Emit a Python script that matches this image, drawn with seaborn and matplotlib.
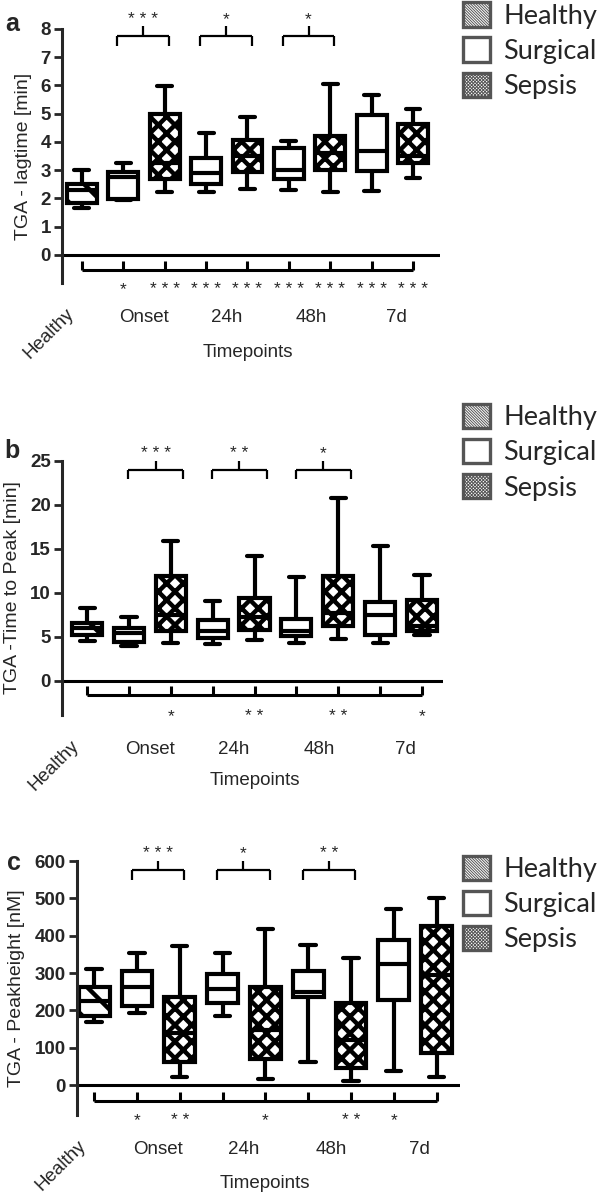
import numpy as np
import pandas as pd
import matplotlib
matplotlib.use("Agg")
import matplotlib.pyplot as plt
import seaborn as sns
from matplotlib.patches import Patch, Rectangle
from matplotlib.legend_handler import HandlerPatch

sns.set_style("white")
plt.rcParams['font.family'] = ['Liberation Sans', 'DejaVu Sans']
plt.rcParams['hatch.linewidth'] = 3.2

# boxes in plotting order
boxes = ["Healthy", "Onset Surgical", "Onset Sepsis", "24h Surgical", "24h Sepsis",
         "48h Surgical", "48h Sepsis", "7d Surgical", "7d Sepsis"]
box_hatch = ["\\", "", "xx", "", "xx", "", "xx", "", "xx"]
timepoints = ["Onset", "24h", "48h", "7d"]
timepoint_x = [1.5, 3.5, 5.55, 7.6]

# min, q1, median, q3, max for every box
lagtime = [[1.66, 1.84, 2.30, 2.51, 3.00],
           [1.93, 1.97, 2.75, 2.94, 3.26],
           [2.21, 2.70, 3.25, 5.00, 5.97],
           [2.22, 2.51, 2.90, 3.44, 4.30],
           [2.34, 2.92, 3.50, 4.08, 4.88],
           [2.30, 2.70, 3.00, 3.80, 4.02],
           [2.21, 3.01, 3.60, 4.20, 6.05],
           [2.25, 2.96, 3.69, 4.94, 5.67],
           [2.72, 3.25, 3.50, 4.63, 5.18]]
time_to_peak = [[4.47, 5.23, 5.95, 6.55, 8.26],
                [3.90, 4.39, 5.40, 5.98, 7.20],
                [4.28, 5.60, 7.50, 11.93, 15.90],
                [4.17, 4.85, 5.70, 6.86, 9.09],
                [4.66, 5.80, 7.30, 9.39, 14.20],
                [4.28, 5.10, 5.60, 7.00, 11.78],
                [4.77, 6.25, 7.70, 11.86, 20.76],
                [4.28, 5.15, 7.50, 8.90, 15.38],
                [5.23, 5.60, 6.20, 9.20, 12.05]]
peakheight = [[168, 186, 225, 263, 312],
              [192, 212, 263, 305, 355],
              [22, 61, 140, 235, 372],
              [186, 219, 256, 297, 353],
              [16, 70, 147, 263, 418],
              [62, 235, 250, 306, 375],
              [12, 46, 120, 220, 339],
              [38, 228, 324, 388, 471],
              [22, 85, 295, 427, 502]]

# significance: each box vs healthy (below axis), surgical vs sepsis (brackets)
lag_vs_healthy = ["", "*", "***", "***", "***", "***", "***", "***", "***"]
lag_pairs = ["***", "*", "*"]
ttp_vs_healthy = ["", "", "*", "", "**", "", "**", "", "*"]
ttp_pairs = ["***", "**", "*"]
peak_vs_healthy = ["", "*", "**", "", "*", "", "**", "*", ""]
peak_pairs = ["***", "*", "**"]

panels = [
    dict(letter="a", stats=lagtime, below=lag_vs_healthy, pairs=lag_pairs,
         ylabel="TGA - lagtime [min]", yticks=range(0, 9), ylim=(-1, 8),
         xlim=(-0.48, 8.65), rect=[0.1037, 0.7636, 0.632, 0.2122],
         ylab_x=-0.103, bb=(-0.53, -0.21, -1.06), tb=(7.74, 7.41, 8.1, 8.52),
         off=(-0.15, 0.1), tp_off=-50, leg_y=0.998, letter_xy=(0.02, 0.99)),
    dict(letter="b", stats=time_to_peak, below=ttp_vs_healthy, pairs=ttp_pairs,
         ylabel="TGA -Time to Peak [min]", yticks=range(0, 26, 5), ylim=(-3.9, 25),
         xlim=(-0.6, 8.5), rect=[0.1037, 0.4027, 0.637, 0.2122],
         ylab_x=-0.129, bb=(-1.59, -0.64, -3.48), tb=(23.98, 22.9, 25.0, 26.4),
         off=(-0.02, 0.3), tp_off=-47, leg_y=0.6625, letter_xy=(0.02, 0.633)),
    dict(letter="c", stats=peakheight, below=peak_vs_healthy, pairs=peak_pairs,
         ylabel="TGA - Peakheight [nM]", yticks=range(0, 601, 100), ylim=(-80, 600),
         xlim=(-0.4, 8.55), rect=[0.1288, 0.0685, 0.6405, 0.2122],
         ylab_x=-0.157, bb=(-42, -18, -80), tb=(576, 549, 600, 634),
         off=(-0.12, 0.1), tp_off=-49, leg_y=0.285, letter_xy=(0.023, 0.289)),
]


class ThinHatchRect(Rectangle):
    # legend swatches use a fine hatch, the boxes a bold one
    def draw(self, renderer):
        with plt.rc_context({"hatch.linewidth": 0.7}):
            if hasattr(self, "set_hatch_linewidth"):
                self.set_hatch_linewidth(0.7)
            super().draw(renderer)


def thin_patch(legend, orig_handle, xdescent, ydescent, width, height, fontsize):
    return ThinHatchRect((-xdescent, -ydescent), width, height)


fig = plt.figure(figsize=(5.98, 11.97), dpi=100)

for p in panels:
    ax = fig.add_axes(p["rect"])
    df = pd.DataFrame({"box": np.repeat(boxes, 5), "value": np.ravel(p["stats"])})
    sns.boxplot(data=df, x="box", y="value", order=boxes, whis=(0, 100),
                width=0.72, color="white", linecolor="black", linewidth=3.0, ax=ax)
    for patch, h in zip(ax.patches, box_hatch):
        patch.set_hatch(h)

    ax.axhline(0, color="black", lw=2.2, zorder=0.5)
    ax.set_xlim(*p["xlim"])
    ax.set_ylim(*p["ylim"])
    ax.set_yticks(list(p["yticks"]))
    ax.set_xlabel("")
    ax.set_ylabel("")
    for s in ["top", "right", "bottom"]:
        ax.spines[s].set_visible(False)
    ax.spines["left"].set_linewidth(2.2)
    ax.tick_params(axis="y", length=6, width=2, labelsize=13.5, pad=2, left=True)
    ax.tick_params(axis="x", bottom=False, labelbottom=False)
    for lbl in ax.get_yticklabels():
        lbl.set_fontweight("bold")
    ax.text(p["ylab_x"], 0.5, p["ylabel"], transform=ax.transAxes, rotation=90,
            ha="center", va="center", fontsize=14)

    # bracket under the axis, compared to healthy
    yb, yt, ys = p["bb"]
    ax.hlines(yb, 0, 8, color="black", lw=2.2, clip_on=False)
    ax.vlines(range(9), yb, yt, color="black", lw=2.2, clip_on=False)
    for i, s in enumerate(p["below"]):
        if s:
            ax.annotate(" ".join(s), xy=(i, ys), xytext=(0, -7), textcoords="offset points",
                        ha="center", va="baseline", fontsize=12.5, annotation_clip=False)

    # surgical vs sepsis brackets
    yh, ye, ytip, ystar = p["tb"]
    dl, dr = p["off"]
    for k, s in enumerate(p["pairs"]):
        i = 1 + 2 * k
        x0, x1 = i + dl, i + 1 + dr
        xm = (x0 + x1) / 2
        ax.hlines(yh, x0, x1, color="black", lw=1.6, clip_on=False)
        ax.vlines([x0, x1], ye, yh, color="black", lw=1.6, clip_on=False)
        ax.vlines(xm, yh, ytip, color="black", lw=1.6, clip_on=False)
        ax.annotate(" ".join(s), xy=(xm, ystar), xytext=(0, -7), textcoords="offset points",
                    ha="center", va="baseline", fontsize=12.5, annotation_clip=False)

    # category labels
    ax.annotate("Healthy", xy=(0, 0), xycoords=("data", "axes fraction"),
                xytext=(-12, -16), textcoords="offset points", ha="right", va="top",
                rotation=45, rotation_mode="anchor", fontsize=13.5, annotation_clip=False)
    for x, t in zip(timepoint_x, timepoints):
        ax.annotate(t, xy=(x, 0), xycoords=("data", "axes fraction"),
                    xytext=(0, -25), textcoords="offset points", ha="center",
                    va="center", fontsize=13.5, annotation_clip=False)
    ax.annotate("Timepoints", xy=(4, 0), xycoords=("data", "axes fraction"),
                xytext=(0, p["tp_off"]), textcoords="offset points", ha="center",
                va="center", fontsize=13.5, annotation_clip=False)

    fig.text(*p["letter_xy"], p["letter"], fontsize=18, fontweight="bold",
             ha="center", va="top")

    handles = [Patch(facecolor="white", edgecolor="#555555", hatch="\\" * 12, lw=2.4, label="Healthy"),
               Patch(facecolor="white", edgecolor="#555555", lw=2.4, label="Surgical"),
               Patch(facecolor="white", edgecolor="#555555", hatch="x" * 10, lw=2.4, label="Sepsis")]
    fig.legend(handles=handles, loc="upper left", bbox_to_anchor=(0.774, p["leg_y"]),
               frameon=False, prop={"family": "Lato", "size": 19.5}, handlelength=1.0,
               handleheight=1.0, handletextpad=0.5, labelspacing=0.32,
               borderpad=0, borderaxespad=0,
               handler_map={Patch: HandlerPatch(patch_func=thin_patch)})

fig.savefig("out.png", dpi=100)
